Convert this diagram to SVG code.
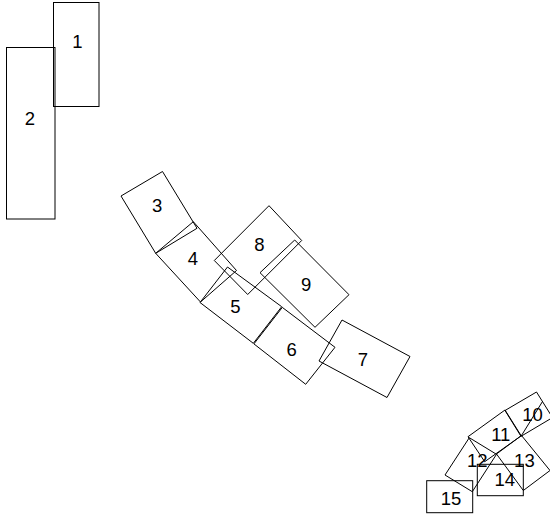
<svg xmlns="http://www.w3.org/2000/svg" width="550" height="522" viewBox="0 0 550 522">
<style>
.box{fill:none;stroke:#000;stroke-width:1}
.lbl{font-family:"Liberation Sans",Arial,sans-serif;font-size:18.5px;fill:#000;text-anchor:middle}
.edge{fill:none;stroke:#000;stroke-width:1}
</style>
<rect width="550" height="522" fill="#fff"/>
<g id="node1"><rect class="box" x="53.5" y="2.5" width="45.5" height="104"/><text class="lbl" x="77.4" y="48.3">1</text></g>
<g id="node2"><rect class="box" x="6.5" y="47.5" width="48.5" height="171.5"/><text class="lbl" x="30" y="125.1">2</text></g>
<g id="node3"><polygon class="box" points="121,196 162.5,171.5 197,228.3 155.7,253.3"/><text class="lbl" x="157.2" y="211.6">3</text></g>
<g id="node4"><polygon class="box" points="155.7,253.3 193.3,221.7 236.5,270.5 200.5,302"/><text class="lbl" x="192.8" y="265.4">4</text></g>
<g id="node5"><polygon class="box" points="200,302.5 227.5,267 281.7,306.7 253.3,343.3"/><text class="lbl" x="235.3" y="313.3">5</text></g>
<g id="node6"><polygon class="box" points="253.9,343.9 282.3,307.4 335,347.3 305.7,384.3"/><text class="lbl" x="291.7" y="356.1">6</text></g>
<g id="node7"><polygon class="box" points="319,361 342,320 410,356.5 387,397.5"/><text class="lbl" x="363" y="366.3">7</text></g>
<g id="node8"><polygon class="box" points="214.3,260.5 269,205.7 301.7,240.5 247.7,294.5"/><text class="lbl" x="259.5" y="251.1">8</text></g>
<g id="node9"><polygon class="box" points="260,272.7 294.7,240 349,294.7 315,327.3"/><text class="lbl" x="306.2" y="290.8">9</text></g>
<g id="node10"><polygon class="box" points="505,410.5 536.5,392 552.5,417.6 521,436.3"/><text class="lbl" x="532.5" y="420.8">10</text></g>
<g id="node11"><polygon class="box" points="468,436.7 505,410 521.2,435.8 484.7,461.7"/><text class="lbl" x="500.8" y="441.3">11</text></g>
<g id="node12"><polygon class="box" points="445,475 469.3,437.7 496.5,454.3 472.3,491.7"/><text class="lbl" x="477.2" y="467.4">12</text></g>
<g id="node13"><polygon class="box" points="496.5,454 521.5,435.5 550,470.5 523.3,490.5"/><text class="lbl" x="524.4" y="467.4">13</text></g>
<g id="node14"><rect class="box" x="477.3" y="464.3" width="46" height="31.4"/><text class="lbl" x="504.8" y="486.1">14</text></g>
<g id="node15"><rect class="box" x="426.7" y="480.7" width="46" height="32"/><text class="lbl" x="451" y="505.1">15</text></g>
<g id="connectors"><line class="edge" x1="521" y1="436.3" x2="542.5" y2="401.5"/></g>
</svg>
